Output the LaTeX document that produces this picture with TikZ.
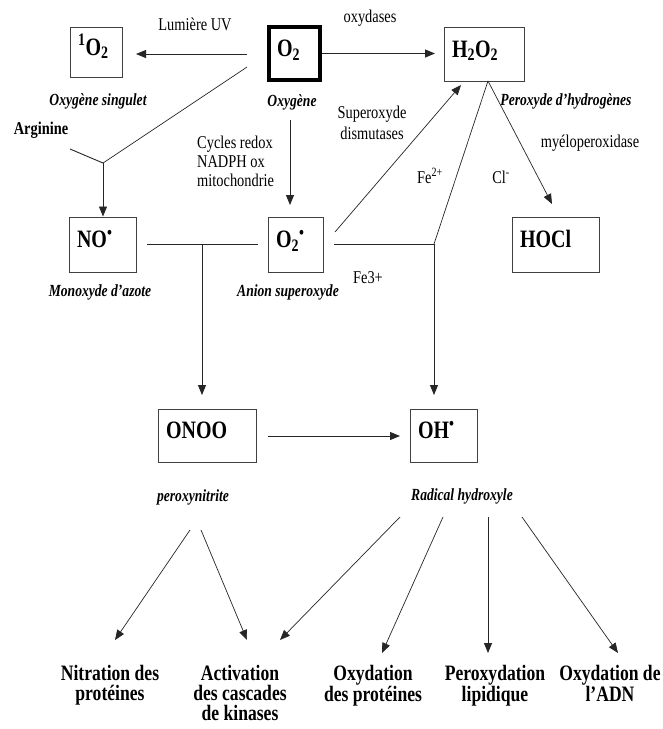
\documentclass[tikz,border=0pt]{standalone}
\usepackage{fontspec}
\setmainfont{Liberation Serif}[FakeStretch=0.8]
\usetikzlibrary{arrows.meta}
\begin{document}
\begin{tikzpicture}[x=1pt,y=-1pt,
  box/.style={draw=black!75, line width=1pt, inner xsep=8pt, inner ysep=0pt,
    text height=16pt, text depth=10pt, align=left,
    font=\fontsize{25}{28}\selectfont\bfseries},
  lbl/.style={inner sep=0pt, font=\fontsize{18}{19}\selectfont},
  ital/.style={inner sep=0pt, font=\fontsize{17}{20}\selectfont\bfseries\itshape},
  res/.style={inner sep=0pt, align=center, anchor=north, font=\fontsize{22}{20}\selectfont\bfseries},
  ln/.style={line width=0.9pt, black!85},
  arr/.style={ln, -{Triangle[length=10pt,width=8pt]}},
]
\useasboundingbox[fill=white] (0,0) rectangle (663,729);

% boxes
\node[box, minimum width=52pt, minimum height=50pt, text width=36pt] (sO2) at (96,52) {\textsuperscript{1}O\textsubscript{2}};
\node[box, line width=4pt, draw=black, minimum width=51pt, minimum height=53pt, text width=35pt] (O2) at (294.5,53.5) {O\textsubscript{2}};
\node[box, minimum width=80pt, minimum height=54pt, text width=64pt] (H2O2) at (484,54) {H\textsubscript{2}O\textsubscript{2}};
\node[box, minimum width=67pt, minimum height=55pt, text width=51pt] (NO) at (102.5,244.5) {NO\textsuperscript{•}};
\node[box, minimum width=55pt, minimum height=55pt, text width=39pt] (SO) at (295.5,244.5) {O\textsubscript{2}\textsuperscript{•}};
\node[box, minimum width=87pt, minimum height=55pt, text width=71pt] (HOCl) at (555.5,244.5) {HOCl};
\node[box, minimum width=98pt, minimum height=53pt, text width=82pt] (ONOO) at (207,435.5) {ONOO};
\node[box, minimum width=67pt, minimum height=53pt, text width=51pt] (OH) at (443.5,435.5) {OH\textsuperscript{•}};

% labels
\node[lbl, anchor=base] (tUV) at (195,30) {Lumière UV};
\node[lbl, anchor=base] (tox) at (370,22) {oxydases};
\node[ital, anchor=base] (tsing) at (98,105.5) {Oxygène singulet};
\node[ital, anchor=base] (toxy) at (292,106) {Oxygène};
\node[ital, anchor=base] (tperox) at (566,105) {Peroxyde d'hydrogènes};
\node[lbl, align=center, anchor=north, font=\fontsize{18}{21}\selectfont] (tsod) at (372,105.5) {Superoxyde\\dismutases};
\node[lbl, anchor=base] (tmye) at (590,147) {myéloperoxidase};
\node[lbl, align=left, anchor=north west] (tcyc) at (197,135.5) {Cycles redox\\NADPH ox\\mitochondrie};
\node[lbl, anchor=base, font=\fontsize{18}{19}\selectfont\bfseries] (targ) at (41,134) {Arginine};
\node[lbl, anchor=base] (tfe2) at (430,183) {Fe\textsuperscript{2+}};
\node[lbl, anchor=base] (tcl) at (501,183) {Cl\textsuperscript{-}};
\node[lbl, anchor=base] (tfe3) at (368,283) {Fe3+};
\node[ital, anchor=base] (tmono) at (100,296) {Monoxyde d'azote};
\node[ital, anchor=base] (tanion) at (288,296) {Anion superoxyde};
\node[ital, anchor=base] (tpn) at (193,501) {peroxynitrite};
\node[ital, anchor=base] (trh) at (462,500) {Radical hydroxyle};

\node[res] (rNit) at (110,665) {Nitration des\\protéines};
\node[res] (rAct) at (240,665) {Activation\\des cascades\\de kinases};
\node[res] (rOxp) at (373,665) {Oxydation\\des protéines};
\node[res] (rPer) at (495,665) {Peroxydation\\lipidique};
\node[res] (rAdn) at (610,665) {Oxydation de\\l'ADN};

% coordinates
\coordinate (uvS) at (247,54);
\coordinate (uvE) at (136,54);
\coordinate (oxE) at (435,53.5);
\coordinate (rdS) at (290,120);
\coordinate (rdE) at (290,205);
\coordinate (argS) at (70,149);
\coordinate (J1) at (103,163);
\coordinate (o2L) at (247,67);
\coordinate (hL1) at (147,244);
\coordinate (hL2) at (258,244);
\coordinate (J3) at (202,244);
\coordinate (onooT) at (202,395);
\coordinate (hR1) at (334,244);
\coordinate (J2) at (434,244);
\coordinate (h2b) at (488,81);
\coordinate (ohT) at (434,395);
\coordinate (sodS) at (335,232);
\coordinate (sodE) at (461,85);
\coordinate (hoclT) at (552,204);
\coordinate (pS) at (268,436);
\coordinate (pE) at (400,436);
\coordinate (pnA) at (190,530);
\coordinate (pnB) at (201,530);
\coordinate (nitT) at (115,640);
\coordinate (actT1) at (247,640);
\coordinate (rh1) at (400,517);
\coordinate (rh2) at (443,517);
\coordinate (rh3) at (488,517);
\coordinate (rh4) at (522,517);
\coordinate (actT2) at (280,640);
\coordinate (oxpT) at (382,653);
\coordinate (perT) at (488,653);
\coordinate (adnT) at (618,653);

% connectors
\draw[arr] (uvS) -- (uvE);
\draw[arr] (O2.east) -- (oxE);
\draw[arr] (rdS) -- (rdE);
\draw[ln] (argS) -- (J1);
\draw[ln, line width=0.7pt] (o2L) -- (J1);
\draw[arr] (J1) -- (J1 |- NO.north);
\draw[ln] (hL1) -- (hL2);
\draw[arr] (J3) -- (onooT);
\draw[ln] (hR1) -- (J2);
\draw[ln, line width=0.7pt] (J2) -- (h2b);
\draw[arr] (J2) -- (ohT);
\draw[arr, line width=0.7pt] (sodS) -- (sodE);
\draw[arr, line width=0.7pt] (h2b) -- (hoclT);
\draw[arr] (pS) -- (pE);
\draw[arr, line width=0.7pt] (pnA) -- (nitT);
\draw[arr, line width=0.7pt] (pnB) -- (actT1);
\draw[arr, line width=0.7pt] (rh1) -- (actT2);
\draw[arr, line width=0.7pt] (rh2) -- (oxpT);
\draw[arr] (rh3) -- (perT);
\draw[arr, line width=0.7pt] (rh4) -- (adnT);
\end{tikzpicture}
\end{document}
